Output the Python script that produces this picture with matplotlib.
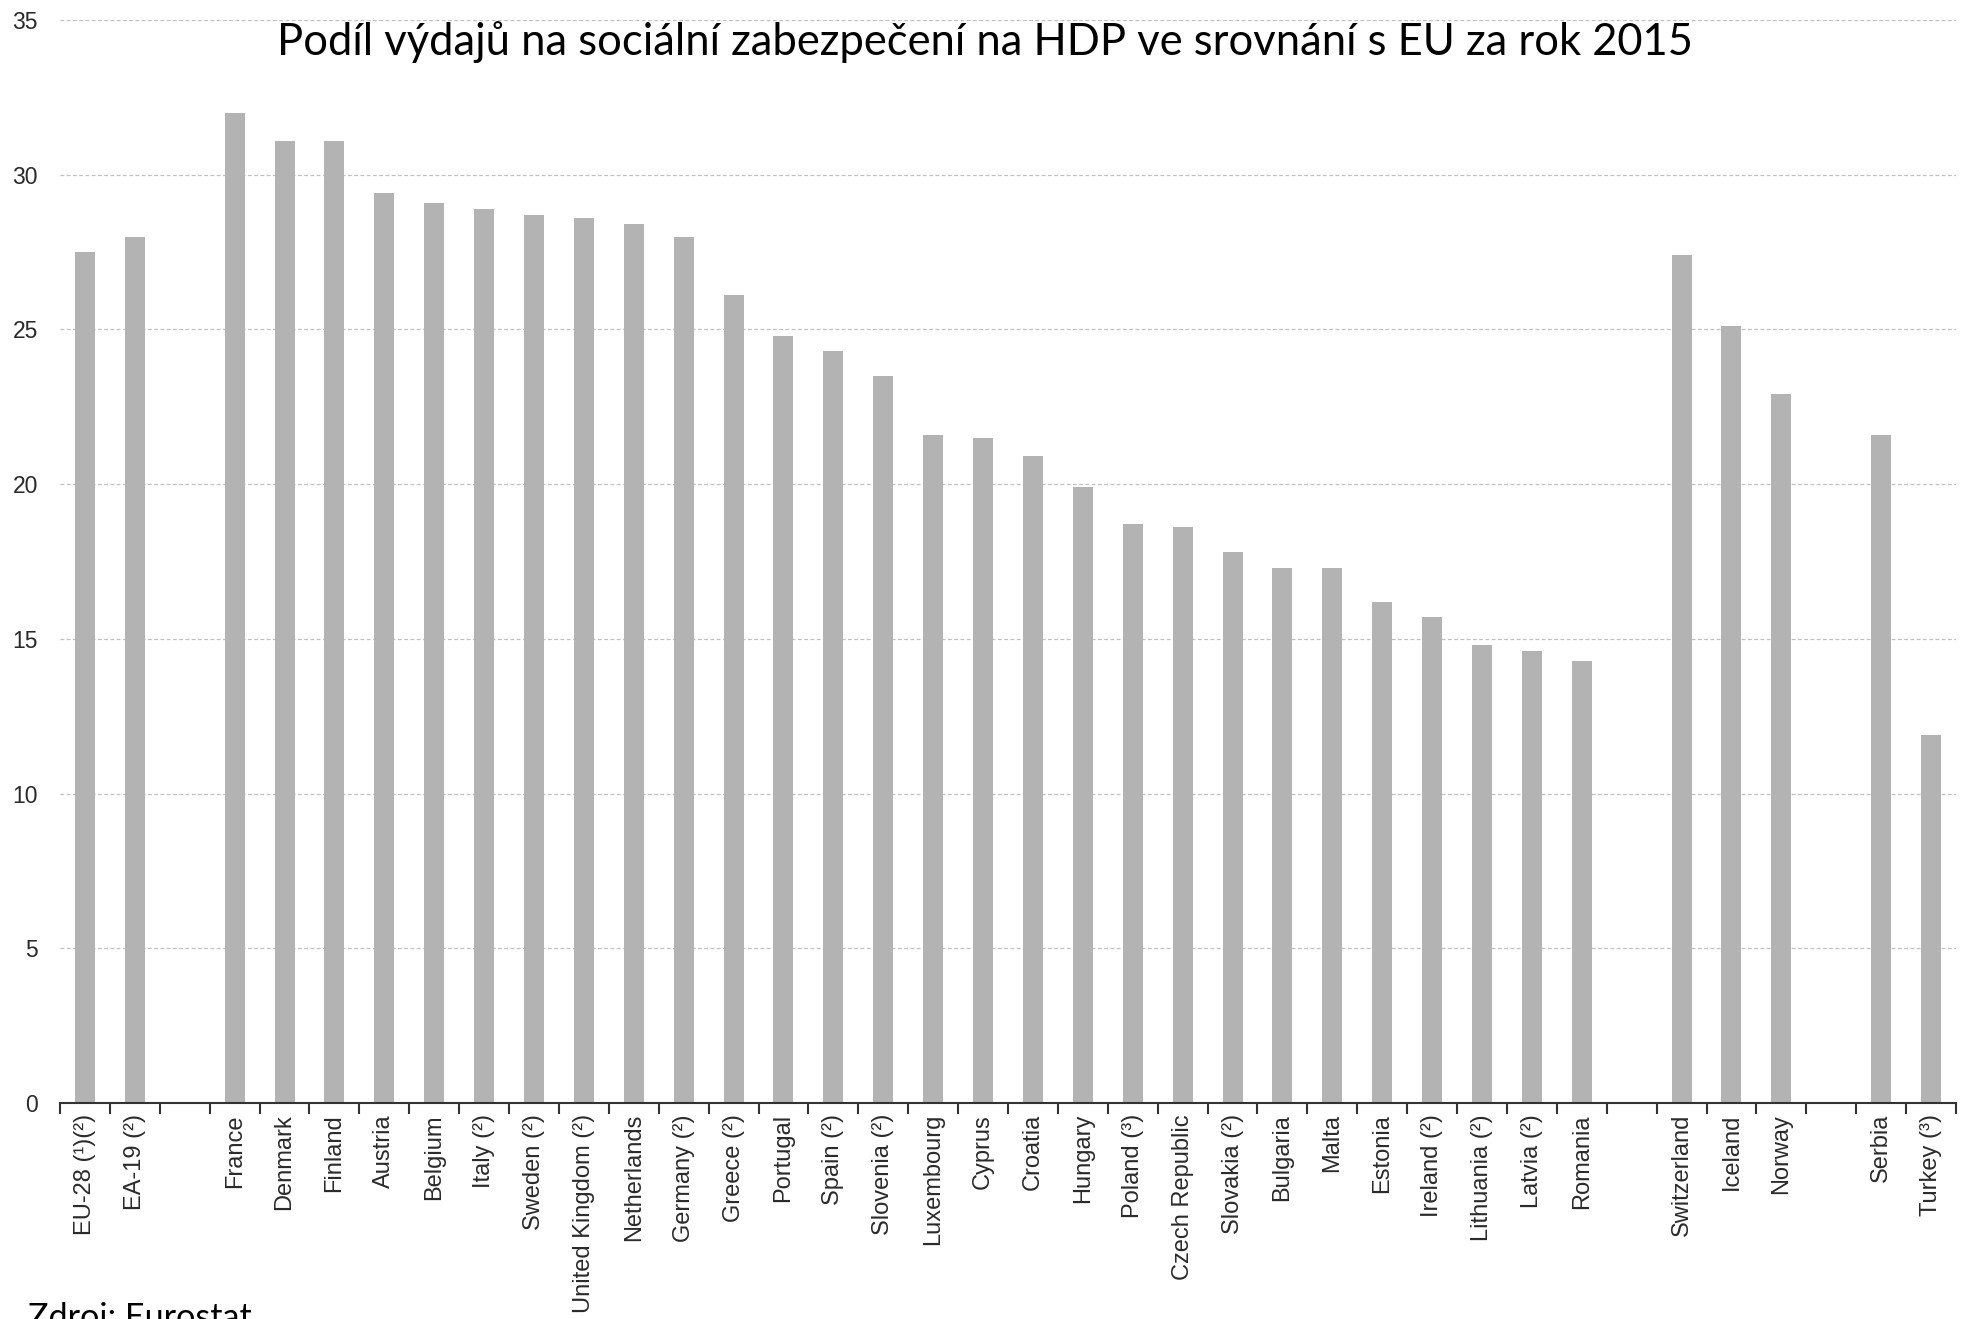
import matplotlib
matplotlib.use("Agg")
import matplotlib.pyplot as plt
import numpy as np

# ---- data ----
categories = ["EU-28 (¹)(²)", "EA-19 (²)", "",
              "France", "Denmark", "Finland", "Austria", "Belgium", "Italy (²)",
              "Sweden (²)", "United Kingdom (²)", "Netherlands", "Germany (²)",
              "Greece (²)", "Portugal", "Spain (²)", "Slovenia (²)", "Luxembourg",
              "Cyprus", "Croatia", "Hungary", "Poland (³)", "Czech Republic",
              "Slovakia (²)", "Bulgaria", "Malta", "Estonia", "Ireland (²)",
              "Lithuania (²)", "Latvia (²)", "Romania", "",
              "Switzerland", "Iceland", "Norway", "",
              "Serbia", "Turkey (³)"]
values = [27.5, 28.0, None,
          32.0, 31.1, 31.1, 29.4, 29.1, 28.9,
          28.7, 28.6, 28.4, 28.0,
          26.1, 24.8, 24.3, 23.5, 21.6,
          21.5, 20.9, 19.9, 18.7, 18.6,
          17.8, 17.3, 17.3, 16.2, 15.7,
          14.8, 14.6, 14.3, None,
          27.4, 25.1, 22.9, None,
          21.6, 11.9]
y_ticks = [0, 5, 10, 15, 20, 25, 30, 35]
title = "Podíl výdajů na sociální zabezpečení na HDP ve srovnání s EU za rok 2015"
source = "Zdroj: Eurostat"

W, H = 1964, 1319
fig = plt.figure(figsize=(W / 100, H / 100), dpi=100)
ax = fig.add_axes([60 / W, 1 - 1103 / H, (1956 - 60) / W, (1103 - 20) / H])

x = np.arange(len(categories))
mask = np.array([v is not None for v in values])
vals = np.array([v if v is not None else 0 for v in values], dtype=float)
ax.bar(x[mask], vals[mask], width=0.4, color="#b3b3b3", zorder=2)

ax.set_xlim(-0.5, len(categories) - 0.5)
ax.set_ylim(0, 35)
ax.set_yticks(y_ticks)
ax.set_yticklabels([str(t) for t in y_ticks], fontsize=16.5, family="Liberation Sans", color="#2a2a2a")
ax.tick_params(axis="y", length=0, pad=16)

ax.set_xticks(x)
ax.set_xticklabels(categories, rotation=90, fontsize=17, family="Liberation Sans", color="#2a2a2a")
ax.tick_params(axis="x", which="major", length=0, pad=8)
ax.set_xticks(np.arange(-0.5, len(categories), 1.0), minor=True)
ax.tick_params(axis="x", which="minor", length=8, width=1.5, color="#333333", direction="out")

ax.grid(axis="y", color="#c0c0c0", linestyle=(0, (3, 2)), linewidth=0.9, zorder=0)
for s in ["left", "right", "top"]:
    ax.spines[s].set_visible(False)
ax.spines["bottom"].set_color("#333333")
ax.spines["bottom"].set_linewidth(1.5)
ax.spines["bottom"].set_zorder(3)

t = fig.text(985 / W, 1 - 42 / H, title, ha="center", va="center",
             fontsize=28, family="Lato", color="#000000")
fig.canvas.draw()
r = fig.canvas.get_renderer()
bb = t.get_window_extent(r)
t.set_fontsize(28 * 1415 / bb.width)

s = fig.text(28 / W, 1 - 1302 / H, source, ha="left", va="top", fontsize=22,
             family="Lato", color="#000000")
fig.canvas.draw()
bb = s.get_window_extent(r)
s.set_fontsize(22 * 223 / bb.width)

fig.savefig("out.png", dpi=100, facecolor="white")
